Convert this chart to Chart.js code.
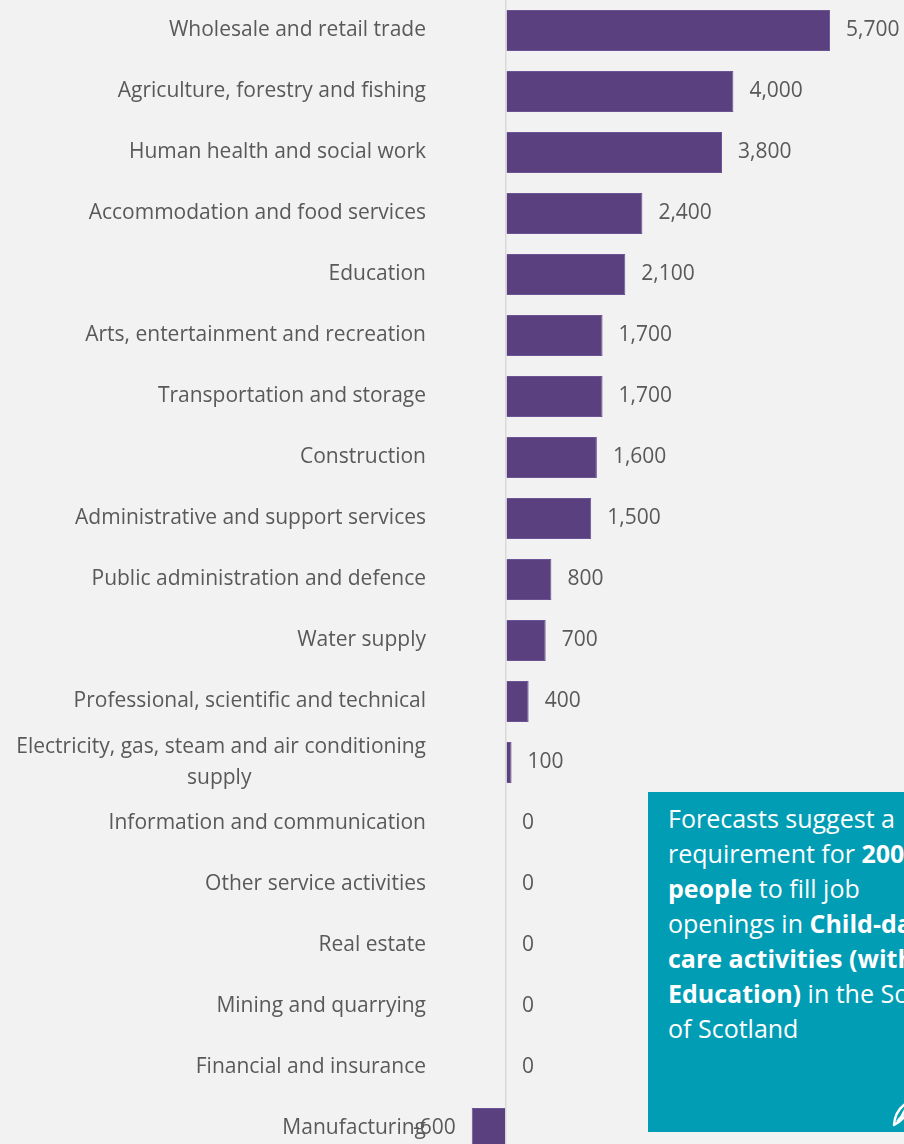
<!DOCTYPE html>
<html>
<head>
<meta charset="utf-8">
<script src="https://cdn.jsdelivr.net/npm/chart.js@4/dist/chart.umd.min.js"></script>
<style>
    html, body {
        margin: 0;
        padding: 0;
        background: #f2f2f2;
        width: 904px;
        height: 1144px;
        overflow: hidden;
        position: relative;
    }
    #wrap {
        position: absolute;
        left: 0;
        top: 0;
        width: 904px;
        height: 1159px;
    }
    #note {
        position: absolute;
        left: 648px;
        top: 792px;
        width: 300px;
        height: 340px;
        background: #019db5;
        color: #fff;
        font-family: "Open Sans", sans-serif;
        font-size: 25px;
        line-height: 35px;
        padding: 9px 0 0 20px;
        box-sizing: border-box;
        white-space: nowrap;
    }
    #icon {
        position: absolute;
        left: 880px;
        top: 1095px;
    }
</style>
</head>
<body>
<div id="wrap"><canvas id="sectorChart"></canvas></div>
<div id="note">
    Forecasts suggest a<br>
    requirement for <b>200</b><br>
    <b>people</b> to fill job<br>
    openings in <b>Child-day</b><br>
    <b>care activities (without</b><br>
    <b>Education)</b> in the South<br>
    of Scotland
</div>
<svg id="icon" width="40" height="40">
    <path d="M14 30 Q15 14 30 6 L27 18 Q22 26 14 30 Z M17 27 Q22 22 25 15" fill="none" stroke="#fff" stroke-width="2.5" stroke-linejoin="round"/>
</svg>
<script>
const sectors = [
    "Wholesale and retail trade",
    "Agriculture, forestry and fishing",
    "Human health and social work",
    "Accommodation and food services",
    "Education",
    "Arts, entertainment and recreation",
    "Transportation and storage",
    "Construction",
    "Administrative and support services",
    "Public administration and defence",
    "Water supply",
    "Professional, scientific and technical",
    "Electricity, gas, steam and air conditioning supply",
    "Information and communication",
    "Other service activities",
    "Real estate",
    "Mining and quarrying",
    "Financial and insurance",
    "Manufacturing"
];

const jobOpenings = [5700, 4000, 3800, 2400, 2100, 1700, 1700, 1600, 1500, 800, 700, 400, 100, 0, 0, 0, 0, 0, -600];

const labelFont = '21px "Open Sans"';
const labelColor = '#595959';

// Excel centres the two lines of a wrapped label; pad the short line with spaces
const measureCtx = document.createElement('canvas').getContext('2d');
measureCtx.font = labelFont;
function centredLines(first, second) {
    const w1 = measureCtx.measureText(first).width;
    const w2 = measureCtx.measureText(second).width;
    const sp = measureCtx.measureText(' ').width;
    const pad = Math.round((w1 - w2) / 2 / sp);
    return [first, second + ' '.repeat(Math.max(pad, 0))];
}

const tickLabels = sectors.map(s => {
    if (s.startsWith('Electricity')) {
        return centredLines('Electricity, gas, steam and air conditioning', 'supply');
    }
    return s;
});

const valueLabels = {
    id: 'valueLabels',
    afterDatasetsDraw(chart) {
        const ctx = chart.ctx;
        const meta = chart.getDatasetMeta(0);
        ctx.save();
        ctx.font = labelFont;
        ctx.fillStyle = labelColor;
        ctx.textBaseline = 'middle';
        meta.data.forEach((bar, i) => {
            const v = jobOpenings[i];
            const text = v.toLocaleString('en-US');
            if (v < 0) {
                ctx.textAlign = 'right';
                ctx.fillText(text, bar.x - 16, bar.y);
            } else {
                ctx.textAlign = 'left';
                ctx.fillText(text, bar.x + 16, bar.y);
            }
        });
        ctx.restore();
    }
};

new Chart(document.getElementById('sectorChart'), {
    type: 'bar',
    data: {
        labels: tickLabels,
        datasets: [{
            data: jobOpenings,
            backgroundColor: '#5a407e',
            borderColor: '#6c5394',
            borderWidth: 1,
            barPercentage: 0.67,
            categoryPercentage: 1
        }]
    },
    options: {
        indexAxis: 'y',
        responsive: true,
        maintainAspectRatio: false,
        animation: false,
        layout: { padding: 0 },
        plugins: {
            legend: { display: false },
            tooltip: { enabled: false }
        },
        scales: {
            x: {
                min: -1000,
                max: 7000,
                ticks: { display: false, stepSize: 1000 },
                border: { display: false },
                grid: {
                    drawTicks: false,
                    lineWidth: 1.5,
                    color: (c) => (c.tick && c.tick.value === 0) ? '#d9d9d9' : 'rgba(0,0,0,0)'
                }
            },
            y: {
                afterFit(scale) {
                    scale.width = 449;
                    scale.paddingTop = 0;
                    scale.paddingBottom = 0;
                },
                border: { display: false },
                grid: { display: false },
                ticks: {
                    autoSkip: false,
                    padding: 15,
                    color: labelColor,
                    font: { family: 'Open Sans', size: 21, lineHeight: 1.45 }
                }
            }
        }
    },
    plugins: [valueLabels]
});
</script>
</body>
</html>
